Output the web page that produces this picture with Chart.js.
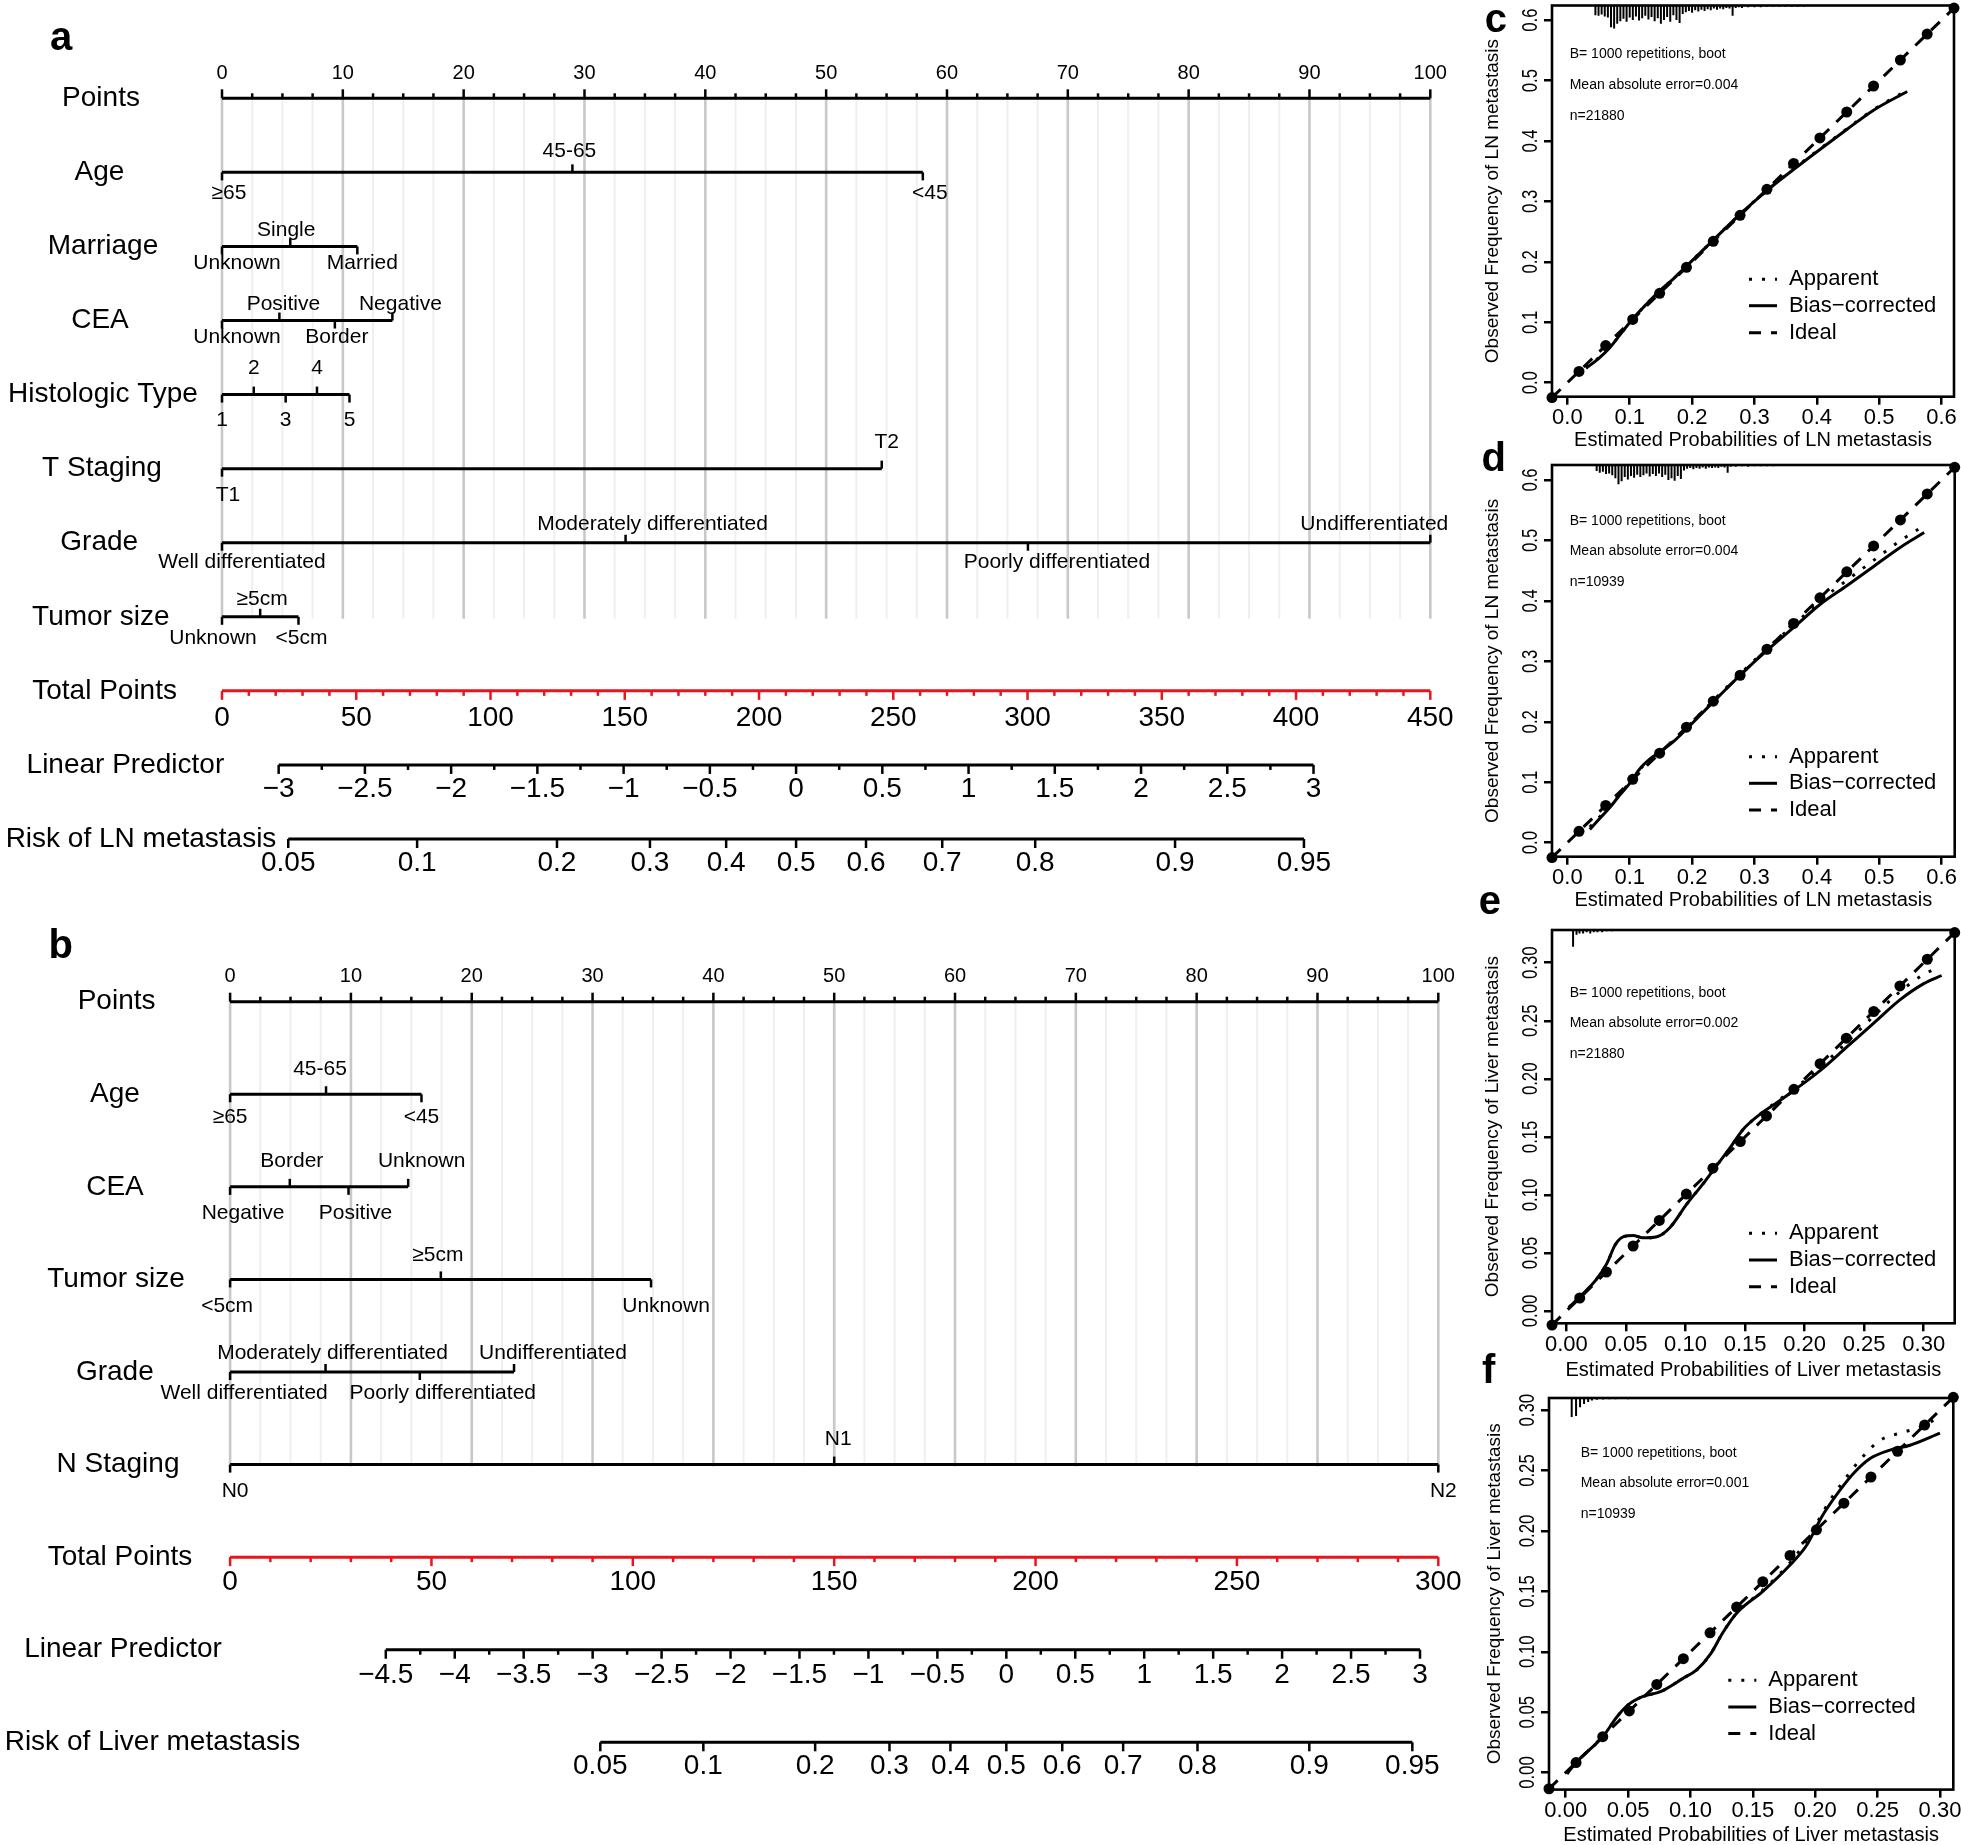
<!DOCTYPE html>
<html>
<head>
<meta charset="utf-8">
<script src="https://cdn.jsdelivr.net/npm/chart.js@4.4.1/dist/chart.umd.min.js"></script>
<style>
  html, body { margin: 0; padding: 0; background: #fff; overflow: hidden; }
  #page { position: relative; width: 1961px; height: 1845px; }
  canvas { position: absolute; }
</style>
</head>
<body>
<div id="page">
  <canvas id="nomoA"></canvas>
  <canvas id="nomoB"></canvas>
  <canvas id="calC"></canvas>
  <canvas id="calD"></canvas>
  <canvas id="calE"></canvas>
  <canvas id="calF"></canvas>
</div>
<script>
const FONT = '"Liberation Sans", Arial, Helvetica, sans-serif';
const RED = '#e8151c';
Chart.defaults.font.family = FONT;
Chart.defaults.color = '#000';

// ---------- a: nomogram, LN metastasis ----------
const rowNamesA = ['Points', 'Age', 'Marriage', 'CEA', 'Histologic Type', 'T Staging', 'Grade', 'Tumor size',
  'Total Points', 'Linear Predictor', 'Risk of LN metastasis'];
const levelLabelsA = [
  ['≥65', '45-65', '<45'],
  ['Unknown', 'Single', 'Married'],
  ['Unknown', 'Positive', 'Border', 'Negative'],
  ['1', '2', '3', '4', '5'],
  ['T1', 'T2'],
  ['Well differentiated', 'Moderately differentiated', 'Poorly differentiated', 'Undifferentiated'],
  ['Unknown', '≥5cm', '<5cm']
];
const levelPointsA = [
  [0, 29.0, 58.0],
  [0, 5.65, 11.2],
  [0, 4.75, 9.34, 14.1],
  [0, 2.63, 5.27, 7.86, 10.55],
  [0, 54.6],
  [0, 33.4, 66.7, 100],
  [0, 3.16, 6.33]
];
const pointTicksA = [0, 10, 20, 30, 40, 50, 60, 70, 80, 90, 100];
const totalTicksA = [0, 50, 100, 150, 200, 250, 300, 350, 400, 450];
const lpTicksA = [-3, -2.5, -2, -1.5, -1, -0.5, 0, 0.5, 1, 1.5, 2, 2.5, 3];
const riskTicksA = [0.05, 0.1, 0.2, 0.3, 0.4, 0.5, 0.6, 0.7, 0.8, 0.9, 0.95];
const lpModelA = [-3.3285, 0.015568]; // linear predictor at 0 total points, change per total point

// ---------- b: nomogram, liver metastasis ----------
const rowNamesB = ['Points', 'Age', 'CEA', 'Tumor size', 'Grade', 'N Staging',
  'Total Points', 'Linear Predictor', 'Risk of Liver metastasis'];
const levelLabelsB = [
  ['≥65', '45-65', '<45'],
  ['Negative', 'Border', 'Positive', 'Unknown'],
  ['<5cm', '≥5cm', 'Unknown'],
  ['Well differentiated', 'Moderately differentiated', 'Poorly differentiated', 'Undifferentiated'],
  ['N0', 'N1', 'N2']
];
const levelPointsB = [
  [0, 7.94, 15.84],
  [0, 4.94, 9.8, 14.74],
  [0, 17.44, 34.84],
  [0, 7.9, 15.7, 23.5],
  [0, 50, 100]
];
const pointTicksB = [0, 10, 20, 30, 40, 50, 60, 70, 80, 90, 100];
const totalTicksB = [0, 50, 100, 150, 200, 250, 300];
const lpTicksB = [-4.5, -4, -3.5, -3, -2.5, -2, -1.5, -1, -0.5, 0, 0.5, 1, 1.5, 2, 2.5, 3];
const riskTicksB = [0.05, 0.1, 0.2, 0.3, 0.4, 0.5, 0.6, 0.7, 0.8, 0.9, 0.95];
const lpModelB = [-5.6291, 0.029206];

// ---------- c-f: calibration curves ----------
const calNotesC = ['B= 1000 repetitions, boot', 'Mean absolute error=0.004', 'n=21880'];
const calNotesD = ['B= 1000 repetitions, boot', 'Mean absolute error=0.004', 'n=10939'];
const calNotesE = ['B= 1000 repetitions, boot', 'Mean absolute error=0.002', 'n=21880'];
const calNotesF = ['B= 1000 repetitions, boot', 'Mean absolute error=0.001', 'n=10939'];

const ticksLN = [0, 0.1, 0.2, 0.3, 0.4, 0.5, 0.6];
const ticksLiver = [0, 0.05, 0.10, 0.15, 0.20, 0.25, 0.30];

const idealC = [-0.0246, 0.0187, 0.0615, 0.1048, 0.148, 0.191, 0.234, 0.277, 0.320, 0.3626, 0.405, 0.448, 0.491, 0.534, 0.577, 0.620];
const biasXC = [0.030, 0.050, 0.068, 0.085, 0.105, 0.125, 0.148, 0.170, 0.191, 0.234, 0.277, 0.320, 0.363, 0.405, 0.448, 0.491, 0.545];
const biasYC = [0.024, 0.040, 0.058, 0.080, 0.106, 0.128, 0.152, 0.172, 0.193, 0.236, 0.279, 0.318, 0.353, 0.386, 0.419, 0.451, 0.482];
const appXC = [0.030, 0.050, 0.068, 0.085, 0.105, 0.125, 0.148, 0.170, 0.191, 0.234, 0.277, 0.320, 0.363, 0.405, 0.448, 0.491, 0.545];
const appYC = [0.025, 0.041, 0.059, 0.080, 0.106, 0.128, 0.152, 0.172, 0.193, 0.236, 0.279, 0.318, 0.354, 0.387, 0.420, 0.452, 0.484];
const rugC = [[0.045, 0.016], [0.050, 0.017], [0.055, 0.015], [0.060, 0.018], [0.065, 0.020], [0.070, 0.036], [0.075, 0.038],
  [0.080, 0.030], [0.085, 0.026], [0.090, 0.022], [0.095, 0.027], [0.100, 0.020], [0.105, 0.024], [0.110, 0.018],
  [0.115, 0.025], [0.120, 0.021], [0.125, 0.017], [0.130, 0.023], [0.135, 0.019], [0.140, 0.026], [0.145, 0.021],
  [0.150, 0.030], [0.155, 0.024], [0.160, 0.019], [0.165, 0.027], [0.170, 0.016], [0.175, 0.024], [0.180, 0.029],
  [0.185, 0.014], [0.190, 0.011], [0.195, 0.009], [0.200, 0.012], [0.205, 0.008], [0.210, 0.010], [0.215, 0.007],
  [0.220, 0.009], [0.225, 0.006], [0.230, 0.008], [0.235, 0.005], [0.240, 0.007], [0.245, 0.005], [0.250, 0.006],
  [0.255, 0.004], [0.260, 0.005], [0.265, 0.017], [0.270, 0.004], [0.275, 0.003], [0.280, 0.004], [0.290, 0.003],
  [0.300, 0.003], [0.310, 0.003], [0.320, 0.002], [0.330, 0.002], [0.340, 0.002], [0.350, 0.002], [0.360, 0.002],
  [0.370, 0.002], [0.380, 0.002]];

const idealD = [-0.0246, 0.0187, 0.0615, 0.1048, 0.148, 0.191, 0.234, 0.277, 0.320, 0.3626, 0.405, 0.448, 0.491, 0.534, 0.577, 0.621];
const biasXD = [0.036, 0.050, 0.068, 0.085, 0.100, 0.116, 0.133, 0.148, 0.170, 0.191, 0.234, 0.277, 0.320, 0.363, 0.405, 0.448, 0.491, 0.533, 0.572];
const biasYD = [0.022, 0.038, 0.058, 0.080, 0.098, 0.122, 0.139, 0.150, 0.167, 0.188, 0.233, 0.277, 0.318, 0.356, 0.394, 0.425, 0.457, 0.488, 0.513];
const appXD = [0.036, 0.050, 0.068, 0.085, 0.100, 0.116, 0.133, 0.148, 0.170, 0.191, 0.234, 0.277, 0.320, 0.363, 0.405, 0.448, 0.491, 0.533, 0.568];
const appYD = [0.026, 0.041, 0.060, 0.081, 0.100, 0.121, 0.138, 0.150, 0.168, 0.190, 0.235, 0.279, 0.321, 0.360, 0.400, 0.434, 0.467, 0.499, 0.522];
const rugD = [[0.047, 0.010], [0.052, 0.013], [0.057, 0.011], [0.062, 0.015], [0.067, 0.014], [0.072, 0.017], [0.077, 0.022],
  [0.082, 0.032], [0.087, 0.027], [0.092, 0.020], [0.097, 0.024], [0.102, 0.018], [0.107, 0.021], [0.112, 0.016],
  [0.117, 0.020], [0.122, 0.017], [0.127, 0.014], [0.132, 0.019], [0.137, 0.015], [0.142, 0.018], [0.147, 0.014],
  [0.152, 0.020], [0.157, 0.016], [0.162, 0.025], [0.167, 0.022], [0.172, 0.026], [0.177, 0.018], [0.182, 0.023],
  [0.187, 0.009], [0.192, 0.006], [0.197, 0.005], [0.202, 0.007], [0.207, 0.005], [0.212, 0.006], [0.217, 0.004],
  [0.222, 0.006], [0.227, 0.004], [0.232, 0.005], [0.237, 0.004], [0.242, 0.005], [0.247, 0.003], [0.252, 0.004],
  [0.257, 0.013], [0.262, 0.003], [0.270, 0.003], [0.280, 0.002], [0.290, 0.003], [0.300, 0.002], [0.310, 0.002],
  [0.320, 0.002], [0.330, 0.002], [0.340, 0.001], [0.350, 0.001], [0.360, 0.001], [0.370, 0.001], [0.380, 0.001]];

const idealE = [-0.0121, 0.0112, 0.0336, 0.056, 0.078, 0.1007, 0.123, 0.146, 0.168, 0.191, 0.213, 0.235, 0.258, 0.280, 0.303, 0.326];
const biasXE = [0.002, 0.011, 0.025, 0.034, 0.041, 0.048, 0.056, 0.064, 0.076, 0.087, 0.101, 0.115, 0.123, 0.137, 0.148, 0.162, 0.176, 0.191, 0.213, 0.235, 0.258, 0.280, 0.300, 0.315];
const biasYE = [0.003, 0.012, 0.027, 0.041, 0.057, 0.064, 0.065, 0.063, 0.064, 0.072, 0.092, 0.110, 0.121, 0.140, 0.156, 0.169, 0.179, 0.190, 0.207, 0.227, 0.248, 0.268, 0.282, 0.289];
const appXE = [0.002, 0.011, 0.025, 0.034, 0.041, 0.048, 0.056, 0.064, 0.076, 0.087, 0.101, 0.115, 0.123, 0.137, 0.148, 0.162, 0.176, 0.191, 0.213, 0.235, 0.258, 0.280, 0.300, 0.310];
const appYE = [0.003, 0.012, 0.027, 0.041, 0.057, 0.064, 0.065, 0.063, 0.064, 0.072, 0.092, 0.110, 0.121, 0.140, 0.156, 0.169, 0.180, 0.191, 0.210, 0.231, 0.254, 0.275, 0.290, 0.295];
const rugE = [[0.0056, 0.0145], [0.0085, 0.004], [0.011, 0.003], [0.014, 0.003], [0.017, 0.002], [0.020, 0.003],
  [0.023, 0.002], [0.026, 0.002], [0.030, 0.002], [0.034, 0.001], [0.038, 0.001]];

const idealF = [-0.0134, 0.0083, 0.0297, 0.051, 0.073, 0.0943, 0.1157, 0.137, 0.158, 0.1798, 0.201, 0.223, 0.2447, 0.266, 0.2877, 0.3107];
const biasXF = [0.001, 0.009, 0.030, 0.041, 0.050, 0.062, 0.076, 0.094, 0.105, 0.116, 0.126, 0.137, 0.158, 0.180, 0.193, 0.206, 0.220, 0.231, 0.244, 0.260, 0.276, 0.300];
const biasYF = [-0.001, 0.009, 0.030, 0.046, 0.056, 0.063, 0.067, 0.078, 0.085, 0.098, 0.116, 0.132, 0.150, 0.172, 0.188, 0.213, 0.234, 0.248, 0.260, 0.267, 0.271, 0.281];
const appXF = [0.001, 0.009, 0.030, 0.041, 0.050, 0.062, 0.076, 0.094, 0.105, 0.116, 0.126, 0.137, 0.158, 0.180, 0.193, 0.201, 0.212, 0.2225, 0.236, 0.252, 0.268, 0.284, 0.300];
const appYF = [-0.001, 0.009, 0.030, 0.046, 0.056, 0.063, 0.067, 0.078, 0.085, 0.098, 0.116, 0.132, 0.151, 0.174, 0.192, 0.206, 0.2255, 0.241, 0.259, 0.275, 0.281, 0.286, 0.2945];
const rugF = [[0.0048, 0.0157], [0.0083, 0.015], [0.0115, 0.0077], [0.0147, 0.005], [0.018, 0.0033], [0.021, 0.002],
  [0.025, 0.0015], [0.030, 0.0012], [0.035, 0.001], [0.040, 0.001], [0.050, 0.001], [0.060, 0.0008], [0.070, 0.0008], [0.080, 0.0008]];

// ---------- nomogram drawing ----------
function nomogram(id, s, lay) {
  const cv = document.getElementById(id);
  cv.width = lay.width; cv.height = lay.height;
  cv.style.left = lay.left + 'px'; cv.style.top = lay.top + 'px';

  const nF = s.levels.length;
  const totalMax = s.totalTicks[s.totalTicks.length - 1];
  const toPts = tp => tp * 100 / totalMax;
  const lpPts = lp => toPts((lp - s.lpModel[0]) / s.lpModel[1]);
  const riskPts = r => lpPts(Math.log(r / (1 - r)));
  const rowTotal = nF + 1, rowLp = nF + 2, rowRisk = nF + 3;
  const last = a => a[a.length - 1];

  const seg = (x0, x1, row, color) => ({
    data: [{x: x0, y: row}, {x: x1, y: row}],
    borderColor: color, borderWidth: 3, pointRadius: 0, clip: false
  });
  const datasets = [seg(s.pointTicks[0], last(s.pointTicks), 0, '#000')];
  s.points.forEach((p, i) => datasets.push(seg(Math.min(...p), Math.max(...p), i + 1, '#000')));
  datasets.push(seg(toPts(s.totalTicks[0]), toPts(totalMax), rowTotal, RED));
  datasets.push(seg(lpPts(s.lpTicks[0]), lpPts(last(s.lpTicks)), rowLp, '#000'));
  datasets.push(seg(riskPts(s.riskTicks[0]), riskPts(last(s.riskTicks)), rowRisk, '#000'));

  const fmt = v => (v < 0 ? '\u2212' : '') + String(Math.abs(v));

  const plugin = {
    id: 'nomogram',
    beforeDatasetsDraw(chart) {
      const {ctx} = chart;
      const X = chart.scales.x, Y = chart.scales.y;
      const yTop = Y.getPixelForValue(0), yBot = Y.getPixelForValue(nF) + 2;
      ctx.save();
      // light grid every 2.5 points, darker every 10
      [false, true].forEach(major => {
        for (let k = 0; k <= 40; k++) {
          const v = k * 2.5;
          if ((k % 4 === 0) !== major) continue;
          ctx.strokeStyle = major ? '#c8c8c8' : '#efefef';
          ctx.lineWidth = major ? 2.6 : 2;
          ctx.beginPath();
          ctx.moveTo(X.getPixelForValue(v), yTop);
          ctx.lineTo(X.getPixelForValue(v), yBot);
          ctx.stroke();
        }
      });
      ctx.restore();
    },
    afterDatasetsDraw(chart) {
      const {ctx} = chart;
      const X = chart.scales.x, Y = chart.scales.y;
      const px = v => X.getPixelForValue(v), py = r => Y.getPixelForValue(r);
      ctx.save();
      ctx.lineWidth = 2.5;
      const tick = (x, y, len, color) => {
        ctx.strokeStyle = color; ctx.beginPath(); ctx.moveTo(x, y); ctx.lineTo(x, y + len); ctx.stroke();
      };
      const text = (t, x, y, size, align) => {
        ctx.fillStyle = '#000'; ctx.font = size + 'px ' + FONT;
        ctx.textAlign = align || 'center'; ctx.textBaseline = 'middle';
        ctx.fillText(t, x, y);
      };

      // Points scale
      const y0 = py(0);
      for (let k = 0; k <= 40; k++) tick(px(k * 2.5), y0, k % 4 === 0 ? -9 : -5, '#000');
      s.pointTicks.forEach(v => text(String(v), px(v), y0 - lay.pointsGap, 20));

      // predictor rows, labels alternate below / above
      s.levels.forEach((labels, i) => {
        const yr = py(i + 1);
        labels.forEach((lab, j) => {
          const x = px(s.points[i][j]);
          const up = j % 2 === 1;
          tick(x, yr, up ? -8 : 8, '#000');
          text(lab, x + lay.shift[i][j], up ? yr - lay.upGap[i] : yr + lay.downGap[i], 21);
        });
      });

      // Total Points
      const yt = py(rowTotal);
      for (let v = 0; v <= totalMax; v += 10) tick(px(toPts(v)), yt, s.totalTicks.includes(v) ? 9 : 5, RED);
      s.totalTicks.forEach(v => text(String(v), px(toPts(v)), yt + lay.totalGap, 28));

      // Linear Predictor
      const yl = py(rowLp);
      const lp0 = s.lpTicks[0], nq = Math.round((last(s.lpTicks) - lp0) / 0.25);
      for (let k = 0; k <= nq; k++) {
        const v = lp0 + k * 0.25;
        const major = s.lpTicks.some(t => Math.abs(t - v) < 1e-9);
        tick(px(lpPts(v)), yl, major ? 9 : 5, '#000');
      }
      s.lpTicks.forEach(v => text(fmt(v), px(lpPts(v)), yl + lay.lpGap, 28));

      // Risk
      const yk = py(rowRisk);
      s.riskTicks.forEach(v => {
        tick(px(riskPts(v)), yk, 9, '#000');
        text(String(v), px(riskPts(v)), yk + lay.riskGap, 28);
      });

      // row names
      s.rows.forEach((name, i) => text(name, lay.nameX[i], py(i), 28));

      // panel letter
      ctx.font = 'bold 40px ' + FONT; ctx.textAlign = 'left'; ctx.textBaseline = 'alphabetic';
      ctx.fillText(lay.letter, lay.letterX, lay.letterY);
      ctx.restore();
    }
  };

  new Chart(cv, {
    type: 'line',
    data: {datasets},
    options: {
      responsive: false, animation: false, events: [],
      layout: {padding: lay.padding},
      scales: {
        x: {type: 'linear', min: 0, max: 100, display: false},
        y: {type: 'linear', min: 0, max: rowRisk, reverse: true, display: false}
      },
      plugins: {legend: {display: false}, tooltip: {enabled: false}}
    },
    plugins: [plugin]
  });
}

nomogram('nomoA',
  {rows: rowNamesA, levels: levelLabelsA, points: levelPointsA, pointTicks: pointTicksA,
   totalTicks: totalTicksA, lpTicks: lpTicksA, riskTicks: riskTicksA, lpModel: lpModelA},
  {left: 0, top: 0, width: 1470, height: 900,
   padding: {left: 222, right: 39.7, top: 98.3, bottom: 61},
   nameX: [101, 99.5, 103, 100, 103, 102, 99.2, 100.8, 104.6, 125.4, 141],
   upGap: [21, 16.7, 16.7, 26.4, 26, 19, 17.7],
   downGap: [20.6, 16.7, 17, 26, 26.7, 19.4, 21.6],
   shift: [[7, -3, 7], [15, -4, 5], [15, 4, 2, 8], [0, 0, 0, 0, 0], [6, 5], [20, 27, 29, -56], [-9, 2, 3]],
   pointsGap: 25, totalGap: 27, lpGap: 24.5, riskGap: 24.5,
   letter: 'a', letterX: 50, letterY: 50});

nomogram('nomoB',
  {rows: rowNamesB, levels: levelLabelsB, points: levelPointsB, pointTicks: pointTicksB,
   totalTicks: totalTicksB, lpTicks: lpTicksB, riskTicks: riskTicksB, lpModel: lpModelB},
  {left: 0, top: 900, width: 1470, height: 945,
   padding: {left: 230.1, right: 31.7, top: 101.7, bottom: 102.7},
   nameX: [116.6, 115, 115, 116, 114.8, 118, 120, 123, 152.5],
   upGap: [25, 25.6, 24.3, 18.4, 25],
   downGap: [23, 26.7, 26.7, 21.6, 26.7],
   shift: [[0, -6, 0], [13, 2, 7, 13.5], [-3, -3, 15], [14, 7, 23, 39], [5, 4, 5]],
   pointsGap: 25, totalGap: 25, lpGap: 25.7, riskGap: 24.4,
   letter: 'b', letterX: 48.5, letterY: 58.3});

// ---------- calibration drawing ----------
function calibration(id, c) {
  const {L, R, T, B} = c.box;
  const left = L - 80, top = Math.max(0, T - 50);
  const yAxisW = c.yTitleGap + 11.4;
  const xAxisH = c.xTitleGap + 12;
  const cv = document.getElementById(id);
  cv.width = Math.ceil(R - left + 10);
  cv.height = Math.ceil(B - top + xAxisH);
  cv.style.left = left + 'px'; cv.style.top = top + 'px';

  const pts = (xs, ys) => xs.map((x, i) => ({x, y: ys[i]}));
  const yMax = c.yRange[1];
  const rug = [];
  c.rug.forEach(([x, h]) => rug.push({x, y: yMax}, {x, y: yMax - h}, {x, y: null}));

  const datasets = [
    {label: 'Ideal', data: c.ideal.map(v => ({x: v, y: v})), borderColor: '#000', borderWidth: 3,
     borderDash: [12, 10], pointRadius: 5.5, pointBackgroundColor: '#000', pointBorderWidth: 0, clip: false},
    {label: 'Bias\u2212corrected', data: pts(c.biasX, c.biasY), borderColor: '#000', borderWidth: 3,
     pointRadius: 0, cubicInterpolationMode: 'monotone'},
    {label: 'Apparent', data: pts(c.appX, c.appY), borderColor: '#000', borderWidth: 3,
     borderDash: [3, 10], pointRadius: 0, cubicInterpolationMode: 'monotone'},
    {label: 'rug', data: rug, borderColor: '#000', borderWidth: 2, pointRadius: 0, spanGaps: false}
  ];

  const plugin = {
    id: 'calib',
    beforeDatasetsDraw(chart) {
      const {ctx, chartArea: a} = chart;
      ctx.save();
      ctx.lineWidth = 2.6; ctx.strokeStyle = '#000';
      ctx.strokeRect(a.left, a.top, a.right - a.left, a.bottom - a.top);
      ctx.restore();
    },
    afterDatasetsDraw(chart) {
      const {ctx, chartArea: a} = chart;
      const Y = chart.scales.y;
      ctx.save();
      ctx.fillStyle = '#000';
      // y tick labels, parallel to the axis
      ctx.font = '22px ' + FONT; ctx.textAlign = 'center'; ctx.textBaseline = 'middle';
      c.yTicks.forEach(v => {
        ctx.save();
        ctx.translate(a.left - 20.6, Y.getPixelForValue(v));
        ctx.rotate(-Math.PI / 2);
        ctx.scale(0.76, 1);
        ctx.fillText(v.toFixed(c.decimals), 0, 0);
        ctx.restore();
      });
      // notes
      ctx.font = '14px ' + FONT; ctx.textAlign = 'left';
      c.notes.forEach((t, i) => ctx.fillText(t, c.noteX - left, a.top + c.noteDy[i]));
      // legend
      [2, 1, 0].forEach((di, k) => {
        const ds = chart.data.datasets[di];
        const x = c.legendX - left, y = c.legendY[k] - top;
        ctx.save();
        ctx.strokeStyle = '#000'; ctx.lineWidth = 3; ctx.setLineDash(ds.borderDash || []);
        ctx.beginPath(); ctx.moveTo(x, y); ctx.lineTo(x + 28, y); ctx.stroke();
        ctx.restore();
        ctx.font = '22px ' + FONT; ctx.textAlign = 'left'; ctx.textBaseline = 'middle';
        ctx.fillText(ds.label, x + 40, y);
      });
      // panel letter
      ctx.font = 'bold 40px ' + FONT; ctx.textBaseline = 'alphabetic';
      ctx.fillText(c.letter, c.letterX - left, c.letterY - top);
      ctx.restore();
    }
  };

  const gridOpts = {display: true, drawOnChartArea: false, drawTicks: true, tickLength: 8, color: '#000', lineWidth: 2.5};
  new Chart(cv, {
    type: 'line',
    data: {datasets},
    options: {
      responsive: false, animation: false, events: [],
      layout: {padding: {left: 80 - yAxisW, top: T - top, right: cv.width - (R - left), bottom: cv.height - (B - top) - xAxisH}},
      scales: {
        x: {
          type: 'linear', min: c.xRange[0], max: c.xRange[1],
          afterBuildTicks: sc => { sc.ticks = c.xTicks.map(v => ({value: v})); },
          afterFit: sc => { sc.height = xAxisH; },
          grid: gridOpts, border: {display: false},
          ticks: {autoSkip: false, maxRotation: 0, padding: 0, font: {size: 22}, color: '#000',
                  callback: v => v.toFixed(c.decimals)},
          title: {display: true, text: c.xTitle, font: {size: 20}, color: '#000', padding: 0}
        },
        y: {
          type: 'linear', min: c.yRange[0], max: c.yRange[1],
          afterBuildTicks: sc => { sc.ticks = c.yTicks.map(v => ({value: v})); },
          afterFit: sc => { sc.width = yAxisW; },
          grid: gridOpts, border: {display: false},
          ticks: {display: false},
          title: {display: true, text: c.yTitle, font: {size: 19}, color: '#000', padding: 0}
        }
      },
      plugins: {legend: {display: false}, tooltip: {enabled: false}}
    },
    plugins: [plugin]
  });
}

calibration('calC', {
  box: {L: 1552.3, R: 1954.3, T: 4.7, B: 396.7}, xRange: [-0.0246, 0.620], yRange: [-0.0231, 0.6242],
  xTicks: ticksLN, yTicks: ticksLN, decimals: 1,
  xTitle: 'Estimated Probabilities of LN metastasis', yTitle: 'Observed Frequency of LN metastasis',
  ideal: idealC, biasX: biasXC, biasY: biasYC, appX: appXC, appY: appYC, rug: rugC, notes: calNotesC,
  xTitleGap: 43.3, yTitleGap: 59.6, noteX: 1570, noteDy: [48.6, 79.6, 110.3],
  legendX: 1749.3, legendY: [279.3, 305.7, 332.7], letter: 'c', letterX: 1485, letterY: 31.7
});
calibration('calD', {
  box: {L: 1552.3, R: 1955, T: 465, B: 856.7}, xRange: [-0.0246, 0.621], yRange: [-0.0232, 0.6248],
  xTicks: ticksLN, yTicks: ticksLN, decimals: 1,
  xTitle: 'Estimated Probabilities of LN metastasis', yTitle: 'Observed Frequency of LN metastasis',
  ideal: idealD, biasX: biasXD, biasY: biasYD, appX: appXD, appY: appYD, rug: rugD, notes: calNotesD,
  xTitleGap: 43.3, yTitleGap: 59.6, noteX: 1570, noteDy: [55.7, 86, 116.7],
  legendX: 1749.3, legendY: [756.7, 783.3, 810], letter: 'd', letterX: 1481.7, letterY: 471
});
calibration('calE', {
  box: {L: 1552.3, R: 1955, T: 930, B: 1323.3}, xRange: [-0.0121, 0.326], yRange: [-0.0106, 0.3282],
  xTicks: ticksLiver, yTicks: ticksLiver, decimals: 2,
  xTitle: 'Estimated Probabilities of Liver metastasis', yTitle: 'Observed Frequency of Liver metastasis',
  ideal: idealE, biasX: biasXE, biasY: biasYE, appX: appXE, appY: appYE, rug: rugE, notes: calNotesE,
  xTitleGap: 46.7, yTitleGap: 59, noteX: 1570, noteDy: [62.7, 93.3, 124],
  legendX: 1749.3, legendY: [1233.3, 1260, 1286.7], letter: 'e', letterX: 1479, letterY: 914
});
calibration('calF', {
  box: {L: 1549, R: 1953.3, T: 1397.7, B: 1789.3}, xRange: [-0.0134, 0.3107], yRange: [-0.0141, 0.3101],
  xTicks: ticksLiver, yTicks: ticksLiver, decimals: 2,
  xTitle: 'Estimated Probabilities of Liver metastasis', yTitle: 'Observed Frequency of Liver metastasis',
  ideal: idealF, biasX: biasXF, biasY: biasYF, appX: appXF, appY: appYF, rug: rugF, notes: calNotesF,
  xTitleGap: 45.7, yTitleGap: 54, noteX: 1580.7, noteDy: [55, 85.6, 116.3],
  legendX: 1728.3, legendY: [1680, 1706.7, 1733.3], letter: 'f', letterX: 1482, letterY: 1383
});
</script>
</body>
</html>
